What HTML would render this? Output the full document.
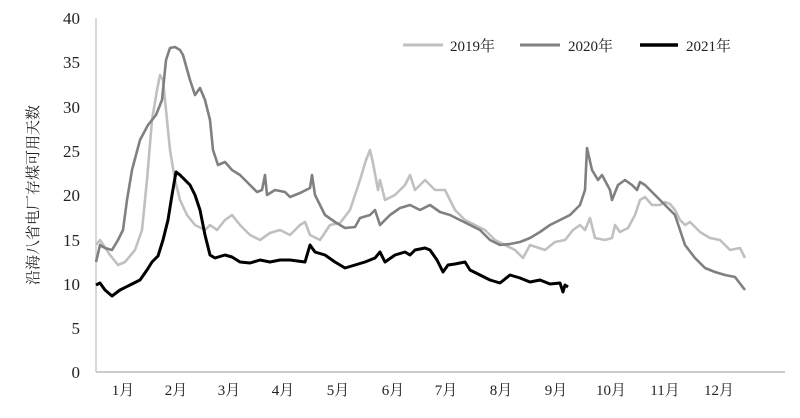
<!DOCTYPE html>
<html><head><meta charset="utf-8"><style>
body{margin:0;background:#fff}
svg text{font-family:"Liberation Serif","Noto Serif CJK SC",serif;fill:#222}
</style></head><body>
<svg width="800" height="413" viewBox="0 0 800 413" xmlns="http://www.w3.org/2000/svg">
<rect width="800" height="413" fill="#fff"/>
<line x1="96" y1="18" x2="96" y2="372" stroke="#ccc" stroke-width="1.5"/>
<line x1="96" y1="372" x2="785" y2="372" stroke="#bbb" stroke-width="1.5"/>
<g font-size="17" text-anchor="end">
<text x="80" y="378">0</text><text x="80" y="334">5</text><text x="80" y="290">10</text><text x="80" y="246">15</text><text x="80" y="201">20</text><text x="80" y="157">25</text><text x="80" y="113">30</text><text x="80" y="68">35</text><text x="80" y="24">40</text>
</g>
<g font-size="15" text-anchor="middle">
<text x="123" y="395">1月</text><text x="176" y="395">2月</text><text x="229" y="395">3月</text><text x="283" y="395">4月</text><text x="338" y="395">5月</text><text x="393" y="395">6月</text><text x="446" y="395">7月</text><text x="501" y="395">8月</text><text x="556" y="395">9月</text><text x="611" y="395">10月</text><text x="665" y="395">11月</text><text x="719" y="395">12月</text>
</g>
<text font-size="15" transform="translate(38,195) rotate(-90)" text-anchor="middle">沿海八省电厂存煤可用天数</text>
<g fill="none" stroke-linejoin="round" stroke-width="2.6">
<polyline stroke="#c0c0c0" points="96,245 100,240 110,255 118,265 125,262 135,250 142,230 147,180 152,120 157,90 160,75 163,80 166,110 170,150 175,180 180,200 187,215 195,225 205,230 210,225 217,230 225,220 232,215 240,225 250,235 260,240 270,233 280,230 290,235 300,225 305,222 310,235 320,240 330,225 340,223 350,210 360,180 366,160 370,150 373,163 378,190 380,180 385,200 395,195 405,185 410,175 415,190 420,185 425,180 435,190 445,190 455,210 465,220 475,225 485,230 495,240 505,245 515,250 523,258 530,245 545,250 555,242 565,240 573,230 580,225 585,230 590,218 595,238 605,240 612,238 615,225 620,232 628,228 635,215 640,200 645,197 652,205 660,205 665,202 670,204 675,210 680,220 685,225 690,222 700,232 710,238 720,240 730,250 740,248 745,258"/>
<polyline stroke="#808080" points="96,262 100,245 105,248 112,250 118,240 123,230 127,200 132,170 140,140 148,125 156,115 162,100 166,60 170,48 175,47 180,50 183,55 190,80 195,95 200,88 205,100 210,120 213,150 218,165 225,162 232,170 240,175 245,180 250,185 257,192 262,190 265,175 267,195 275,190 285,192 290,197 300,193 310,188 312,175 315,195 325,215 335,222 345,228 355,227 360,218 370,215 375,210 380,225 390,215 400,208 410,205 420,210 430,205 440,212 450,215 460,220 470,225 480,230 490,240 500,245 510,244 520,242 530,238 540,232 550,225 560,220 570,215 580,205 585,190 587,148 592,170 598,180 602,175 610,190 612,200 618,185 625,180 632,185 637,190 640,182 645,185 655,195 665,205 675,215 680,230 685,245 695,258 705,268 715,272 725,275 735,277 745,290"/>
<polyline stroke="#000" stroke-width="3" points="96,285 100,283 105,290 112,296 120,290 130,285 140,280 147,270 152,262 158,256 163,240 168,220 172,195 176,172 180,175 185,180 190,185 195,195 200,210 205,235 210,255 215,258 225,255 232,257 240,262 250,263 260,260 270,262 280,260 290,260 305,262 310,245 315,252 325,255 335,262 345,268 355,265 365,262 375,258 380,252 385,262 395,255 405,252 410,255 415,250 425,248 430,250 437,260 443,272 448,265 455,264 465,262 470,270 480,275 490,280 500,283 510,275 520,278 530,282 540,280 550,284 560,283 563,292 565,285 568,287"/>
</g>
<g stroke-width="3">
<line x1="403" y1="45" x2="443" y2="45" stroke="#c0c0c0"/>
<line x1="520" y1="45" x2="560" y2="45" stroke="#808080"/>
<line x1="640" y1="45" x2="678" y2="45" stroke="#000" stroke-width="3.5"/>
</g>
<g font-size="15">
<text x="450" y="51">2019年</text><text x="568" y="51">2020年</text><text x="686" y="51">2021年</text>
</g>
</svg>
</body></html>
